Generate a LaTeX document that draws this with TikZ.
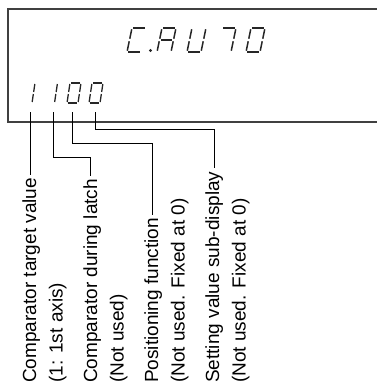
\documentclass[tikz,border=0pt]{standalone}
\usepackage{fontspec}
\setmainfont{Liberation Sans}
\newcommand\SgA{\draw[seg] (0,1)--(1,1);}
\newcommand\SgB{\draw[seg] (1,1)--(1,.5);}
\newcommand\SgC{\draw[seg] (1,.5)--(1,0);}
\newcommand\SgD{\draw[seg] (0,0)--(1,0);}
\newcommand\SgE{\draw[seg] (0,0)--(0,.5);}
\newcommand\SgF{\draw[seg] (0,.5)--(0,1);}
\newcommand\SgG{\draw[seg] (0,.5)--(1,.5);}
\begin{document}
\begin{tikzpicture}[x=1pt,y=-1pt,
  seg/.style={line width=1.5pt,black!85,shorten <=1.3pt,shorten >=1.3pt},
  bigdig/.style={shift={(#1,52)},x={(14pt,0pt)},y={(5pt,24pt)}},
  smalldig/.style={shift={(#1,103)},x={(11pt,0pt)},y={(3pt,20pt)},seg/.append style={line width=1.3pt,shorten <=1pt,shorten >=1pt}},
  boxline/.style={line width=1.5pt,black!75},
  conn/.style={line width=0.9pt,black},
  lbl/.style={rotate=90,anchor=base west,inner sep=0pt,font=\fontsize{19}{19}\selectfont}]
\useasboundingbox (0,0) rectangle (377,391);
% display frame
\draw[boxline] (377,9) -- (8,9) -- (8,122) -- (377,122);
% main display C.AU70
\begin{scope}[bigdig=127] \SgA\SgF\SgE\SgD \end{scope}
\fill[black!85] (150.5,50.5) circle (1.7pt);
\begin{scope}[bigdig=157] \SgA\SgB\SgC\SgE\SgF\SgG \end{scope}
\begin{scope}[bigdig=187] \SgB\SgC\SgD\SgE\SgF \end{scope}
\begin{scope}[bigdig=217] \SgA\SgB\SgC \end{scope}
\begin{scope}[bigdig=246] \SgA\SgB\SgC\SgD\SgE\SgF \end{scope}
% sub display 1100
\begin{scope}[smalldig=21] \SgB\SgC \end{scope}
\begin{scope}[smalldig=43.5] \SgB\SgC \end{scope}
\begin{scope}[smalldig=67] \SgA\SgB\SgC\SgD\SgE\SgF \end{scope}
\begin{scope}[smalldig=89] \SgA\SgB\SgC\SgD\SgE\SgF \end{scope}
% labels
\node[lbl] (t1) at (36,383) {Comparator target value};
\node[lbl] (t2) at (62.5,383) {(1: 1st axis)};
\node[lbl] (t3) at (97,383) {Comparator during latch};
\node[lbl] (t4) at (123.5,383) {(Not used)};
\node[lbl] (t5) at (158,383) {Positioning function};
\node[lbl] (t6) at (184.5,383) {(Not used. Fixed at 0)};
\node[lbl] (t7) at (219,383) {Setting value sub-display};
\node[lbl] (t8) at (245.5,383) {(Not used. Fixed at 0)};
% connectors
\coordinate (d1) at (30,112);
\coordinate (d2) at (53,112);
\coordinate (d3) at (72.7,112);
\coordinate (d4) at (95.3,112);
\coordinate (c2) at (90.7,157);
\coordinate (c3) at (152,143);
\coordinate (c4) at (214,129);
\draw[conn] (d1) -- ([yshift=3pt]d1 |- t1.east);
\draw[conn] (d2) |- (c2) -- ([yshift=3pt]c2 |- t3.east);
\draw[conn] (d3) |- (c3) -- ([yshift=3pt]c3 |- t5.east);
\draw[conn] (d4) |- (c4) -- ([yshift=3pt]c4 |- t7.east);
\end{tikzpicture}
\end{document}
